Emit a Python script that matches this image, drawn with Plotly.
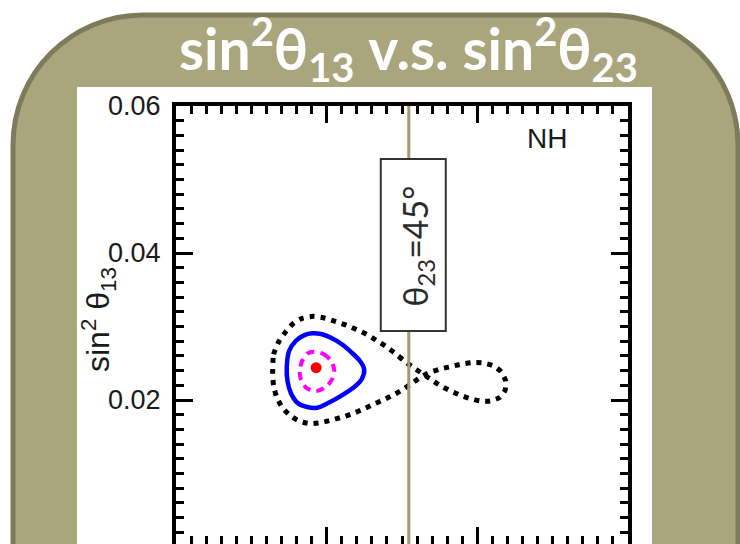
import plotly.graph_objects as go

# ---------------- data ----------------
best_fit_s23 = [0.386]
best_fit_s13 = [0.0244]

# 1-sigma (magenta dashed)
c1_s23 = [0.3829, 0.3956, 0.4055, 0.4101, 0.4074, 0.3996, 0.3864, 0.3733, 0.3661, 0.3641, 0.3681, 0.3746]
c1_s13 = [0.02657, 0.02626, 0.02538, 0.02408, 0.02286, 0.02184, 0.02123, 0.02163, 0.02272, 0.02408, 0.02544, 0.02633]

# 2-sigma (blue solid)
c2_s23 = [0.3470, 0.3501, 0.3589, 0.3698, 0.3808, 0.3939, 0.4070, 0.4202, 0.4333, 0.4442,
          0.4498, 0.4464, 0.4354, 0.4202, 0.4026, 0.3874, 0.3742, 0.3611, 0.3523, 0.3480]
c2_s13 = [0.02440, 0.02667, 0.02803, 0.02880, 0.02908, 0.02894, 0.02840, 0.02758, 0.02644, 0.02531,
          0.02418, 0.02282, 0.02167, 0.02064, 0.01963, 0.01895, 0.01905, 0.01963, 0.02099, 0.02259]

# 3-sigma (black dotted)
c3_s23 = [0.3283, 0.3296, 0.3369, 0.3457, 0.3566, 0.3677, 0.3829, 0.3983, 0.4127, 0.4267,
          0.4399, 0.4530, 0.4661, 0.4793, 0.4915, 0.5020, 0.5134, 0.5252, 0.5383, 0.5515,
          0.5646, 0.5777, 0.5908, 0.6040, 0.6171, 0.6289, 0.6368, 0.6376, 0.6316, 0.6214,
          0.6083, 0.5930, 0.5777, 0.5624, 0.5492, 0.5361, 0.5252, 0.5142, 0.5033, 0.4902,
          0.4770, 0.4639, 0.4508, 0.4376, 0.4223, 0.4070, 0.3917, 0.3786, 0.3654, 0.3523,
          0.3414, 0.3339, 0.3296]
c3_s13 = [0.02372, 0.02622, 0.02803, 0.02929, 0.03052, 0.03112, 0.03139, 0.03112, 0.03065, 0.03016,
          0.02957, 0.02894, 0.02812, 0.02725, 0.02630, 0.02540, 0.02453, 0.02372, 0.02282, 0.02191,
          0.02123, 0.02064, 0.02018, 0.01987, 0.01987, 0.02031, 0.02132, 0.02259, 0.02385, 0.02463,
          0.02504, 0.02508, 0.02486, 0.02449, 0.02418, 0.02372, 0.02313, 0.02235, 0.02159, 0.02078,
          0.02010, 0.01950, 0.01887, 0.01827, 0.01773, 0.01728, 0.01691, 0.01678, 0.01705, 0.01782,
          0.01895, 0.02031, 0.02191]

theta23_45_s23 = 0.509           # vertical "θ23=45°" line as drawn
label_box_s23 = [0.4718, 0.5581]  # label box extent (x)
label_box_s13 = [0.02939, 0.05279]  # label box extent (y)
label_pos = (0.5196, 0.04095)

x_range = [0.2, 0.8]
y_range = [0.00041, 0.06]
y_tick_vals = [0.02, 0.04, 0.06]
y_tick_text = ["0.02", "0.04", "0.06"]

title_text = "sin<sup>2</sup>θ<sub>13</sub> v.s. sin<sup>2</sup>θ<sub>23</sub>"
ytitle_text = "sin<sup>2</sup> θ<sub>13</sub>"
nh_text = "NH"
line_label = "θ<sub>23</sub>=45°"

# ---------------- layout geometry ----------------
W, H = 740, 544
ML, MR, MT, MB = 176, 112, 106, 0
PW, PH = W - ML - MR, H - MT - MB


def pxx(p):
    return (p - ML) / PW


def pxy(p):
    return (H - MB - p) / PH


def close(a):
    return list(a) + [a[0]]


fig = go.Figure()
fig.add_trace(go.Scatter(x=close(c3_s23), y=close(c3_s13), mode="lines",
                         line=dict(color="black", width=5, dash="5px,6px", shape="spline", smoothing=0.6),
                         hoverinfo="skip"))
fig.add_trace(go.Scatter(x=close(c2_s23), y=close(c2_s13), mode="lines",
                         line=dict(color="#0000FF", width=4.5, shape="spline", smoothing=0.8),
                         hoverinfo="skip"))
fig.add_trace(go.Scatter(x=close(c1_s23), y=close(c1_s13), mode="lines",
                         line=dict(color="#FF00FF", width=4, dash="8px,6px", shape="spline", smoothing=0.8),
                         hoverinfo="skip"))
fig.add_trace(go.Scatter(x=best_fit_s23, y=best_fit_s13, mode="markers",
                         marker=dict(color="#FF0000", size=11), hoverinfo="skip"))

# rounded olive panel
k = 0.5523
L, R, T, B, r = 13, 738, 15, 580, 130
pts = [
    ("M", [(L, B)]),
    ("L", [(L, T + r)]),
    ("C", [(L, T + r - k * r), (L + r - k * r, T), (L + r, T)]),
    ("L", [(R - r, T)]),
    ("C", [(R - r + k * r, T), (R, T + r - k * r), (R, T + r)]),
    ("L", [(R, B)]),
]
path = ""
for cmd, ps in pts:
    path += cmd + " " + " ".join(f"{pxx(a):.5f},{pxy(b):.5f}" for a, b in ps) + " "
path += "Z"

shapes = [
    dict(type="path", path=path, xref="paper", yref="paper", layer="below",
         fillcolor="#A9A57C", line=dict(color="#7E7B5B", width=5)),
    dict(type="rect", xref="paper", yref="paper", layer="below",
         x0=pxx(77), x1=pxx(652), y0=pxy(600), y1=pxy(87),
         fillcolor="white", line=dict(width=0)),
    dict(type="line", xref="x", yref="paper", x0=theta23_45_s23, x1=theta23_45_s23,
         y0=0, y1=1, line=dict(color="#A09C70", width=3), layer="above"),
    dict(type="rect", xref="x", yref="y", x0=label_box_s23[0], x1=label_box_s23[1],
         y0=label_box_s13[0], y1=label_box_s13[1], fillcolor="white",
         line=dict(color="#333333", width=2), layer="above"),
]

annotations = [
    dict(text=title_text, xref="paper", yref="paper", x=pxx(408), y=pxy(49),
         xanchor="center", yanchor="middle", showarrow=False,
         font=dict(family="Lato", size=57, color="white", weight="bold")),
    dict(text=ytitle_text, xref="paper", yref="paper", x=pxx(98), y=pxy(320),
         xanchor="center", yanchor="middle", showarrow=False, textangle=-90,
         font=dict(family="Liberation Sans", size=32, color="#1a1a1a")),
    dict(text=nh_text, xref="paper", yref="paper", x=pxx(547), y=pxy(138),
         xanchor="center", yanchor="middle", showarrow=False,
         font=dict(family="Liberation Sans", size=28, color="#1a1a1a")),
    dict(text=line_label, xref="x", yref="y", x=label_pos[0], y=label_pos[1],
         xanchor="center", yanchor="middle", showarrow=False, textangle=-90,
         font=dict(family="Lato", size=34, color="#2b2b2b")),
]

fig.update_layout(
    width=W, height=H,
    margin=dict(l=ML, r=MR, t=MT, b=MB, pad=0),
    paper_bgcolor="white", plot_bgcolor="rgba(0,0,0,0)",
    showlegend=False, hovermode=False,
    shapes=shapes, annotations=annotations,
    xaxis=dict(range=x_range, tick0=0.2, dtick=0.2, showticklabels=False,
               ticks="inside", ticklen=17, tickwidth=3, tickcolor="black",
               showline=True, linewidth=4, linecolor="black", mirror="allticks",
               showgrid=False, zeroline=False,
               minor=dict(dtick=0.02, ticks="inside", ticklen=8, tickwidth=3, tickcolor="black",
                          showgrid=False)),
    yaxis=dict(range=y_range, tickvals=y_tick_vals, ticktext=y_tick_text,
               ticks="inside", ticklen=17, tickwidth=3, tickcolor="black",
               showline=True, linewidth=4, linecolor="black", mirror="allticks",
               showgrid=False, zeroline=False, ticklabelstandoff=6,
               tickfont=dict(family="Liberation Sans", size=27, color="#1a1a1a"),
               minor=dict(dtick=0.002, tick0=0, ticks="inside", ticklen=8, tickwidth=3,
                          tickcolor="black", showgrid=False)),
)

fig.write_html("out.html", config={"displayModeBar": False})
